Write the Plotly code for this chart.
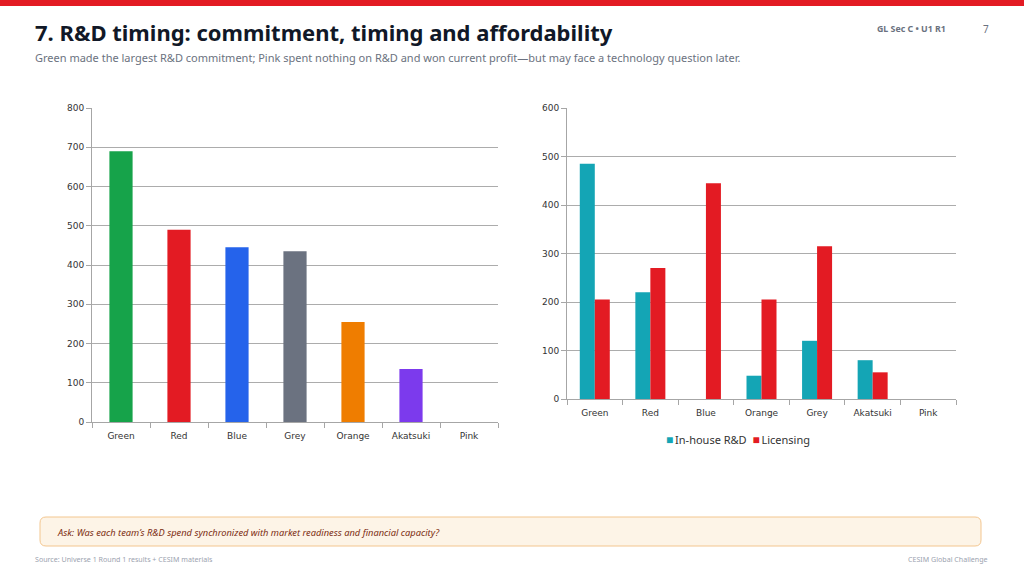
import plotly.graph_objects as go

teams_total = ["Green", "Red", "Blue", "Grey", "Orange", "Akatsuki", "Pink"]
total_rd = [690, 490, 445, 435, 255, 135, 0]
team_colors = ["#16a34a", "#e31b23", "#2563eb", "#6b7280", "#ef7d00", "#7c3aed", "#ec4899"]

teams_split = ["Green", "Red", "Blue", "Orange", "Grey", "Akatsuki", "Pink"]
inhouse_rd = [485, 220, 0, 48, 120, 80, 0]
licensing = [205, 270, 445, 205, 315, 55, 0]
series_names = ["In-house R&D", "Licensing"]
series_colors = ["#14a5b5", "#e31b23"]

left_ticks = [0, 100, 200, 300, 400, 500, 600, 700, 800]
right_ticks = [0, 100, 200, 300, 400, 500, 600]

W, H = 1024, 576
def px(x): return x / W
def py(y): return 1 - y / H

fig = go.Figure()
fig.add_trace(go.Bar(x=teams_total, y=total_rd, marker=dict(color=team_colors, line=dict(width=0)),
                     width=0.4, xaxis="x", yaxis="y", showlegend=False))
for name, vals, col in zip(series_names, [inhouse_rd, licensing], series_colors):
    fig.add_trace(go.Bar(x=teams_split, y=vals, name=name, marker=dict(color=col, line=dict(width=0)),
                         xaxis="x2", yaxis="y2", showlegend=False))

axfont = dict(family="DejaVu Sans", size=9, color="#333333")
common_x = dict(showline=True, linecolor="#a6a6a6", linewidth=1, ticks="outside", tickson="boundaries",
                ticklen=5, tickcolor="#a6a6a6", tickfont=axfont, showgrid=False, fixedrange=True,
                ticklabelstandoff=5, automargin=False)
common_y = dict(showline=True, linecolor="#a6a6a6", linewidth=1, ticks="outside", ticklen=5, tickcolor="#a6a6a6",
                tickfont=axfont, showgrid=True, gridcolor="#acacac", gridwidth=1, zeroline=False, fixedrange=True,
                automargin=False)

fig.update_layout(
    width=W, height=H, margin=dict(l=0, r=0, t=0, b=0, pad=0, autoexpand=False),
    paper_bgcolor="white", plot_bgcolor="white",
    barmode="group",
    xaxis=dict(domain=[px(92), px(498)], anchor="y", **common_x),
    yaxis=dict(domain=[py(422), py(108)], anchor="x", range=[0, 800], tickvals=left_ticks, **common_y),
    xaxis2=dict(domain=[px(567), px(956)], anchor="y2", **common_x),
    yaxis2=dict(domain=[py(399), py(108)], anchor="x2", range=[0, 600], tickvals=right_ticks, **common_y),
    bargap=0.46,
    showlegend=False,
)

shapes = [
    dict(type="rect", xref="paper", yref="paper", x0=0, x1=1, y0=py(6), y1=1, fillcolor="#e31b23", line=dict(width=0)),
]
x0, x1, y0, y1, r = px(40), px(981), py(546), py(517), 6
rx, ry = r / W, r / H
path = (f"M {x0+rx},{y0} L {x1-rx},{y0} Q {x1},{y0} {x1},{y0+ry} L {x1},{y1-ry} Q {x1},{y1} {x1-rx},{y1} "
        f"L {x0+rx},{y1} Q {x0},{y1} {x0},{y1-ry} L {x0},{y0+ry} Q {x0},{y0} {x0+rx},{y0} Z")
shapes.append(dict(type="path", xref="paper", yref="paper", path=path, fillcolor="#fdf4e7",
                   line=dict(color="#f3c68f", width=1)))
fig.update_layout(shapes=shapes)

legend_text = "\u00a0\u00a0".join(
    f"<span style='color:{c};font-size:12px'>■</span>\u2009{n}" for n, c in zip(series_names, series_colors)
)

ann = [
    dict(text="<b>7. R&D timing: commitment, timing and affordability</b>", x=px(33), y=py(32), xanchor="left", yanchor="middle",
         font=dict(family="Noto Sans", size=22, color="#111827")),
    dict(text="Green made the largest R&D commitment; Pink spent nothing on R&D and won current profit—but may face a technology question later.",
         x=px(33), y=py(58), xanchor="left", yanchor="middle", font=dict(family="Noto Sans", size=11, color="#6b7280")),
    dict(text="<b>GL Sec C • U1 R1</b>", x=px(948), y=py(29), xanchor="right", yanchor="middle",
         font=dict(family="Noto Sans", size=8.8, color="#6b7280")),
    dict(text="7", x=px(991), y=py(29), xanchor="right", yanchor="middle",
         font=dict(family="Noto Sans", size=10, color="#6b7280")),
    dict(text=legend_text, x=px(738), y=py(439), xanchor="center", yanchor="middle",
         font=dict(family="Noto Sans", size=11, color="#333333")),
    dict(text="Ask: Was each team’s R&D spend synchronized with market readiness and financial capacity?",
         x=px(55), y=py(532), xanchor="left", yanchor="middle",
         font=dict(family="Noto Sans", size=9.3, color="#7c2d12", style="italic")),
    dict(text="Source: Universe 1 Round 1 results + CESIM materials", x=px(33), y=py(559), xanchor="left", yanchor="middle",
         font=dict(family="Noto Sans", size=7.1, color="#9ca3af")),
    dict(text="CESIM Global Challenge", x=px(990), y=py(559), xanchor="right", yanchor="middle",
         font=dict(family="Noto Sans", size=7.1, color="#9ca3af")),
]
for a in ann:
    a.update(xref="paper", yref="paper", showarrow=False)
fig.update_layout(annotations=ann)

post = """
document.documentElement.style.margin='0';
document.documentElement.style.padding='0';
document.documentElement.style.overflow='hidden';
document.body.style.margin='0';
document.body.style.padding='0';
document.body.style.overflow='hidden';
var gd=document.getElementById('{plot_id}');
var p=gd.parentElement;
p.style.height='576px'; p.style.width='1024px'; p.style.overflow='hidden'; p.style.margin='0';
gd.style.margin='0';
"""
fig.write_html("out.html", config={"displayModeBar": False}, post_script=post)
